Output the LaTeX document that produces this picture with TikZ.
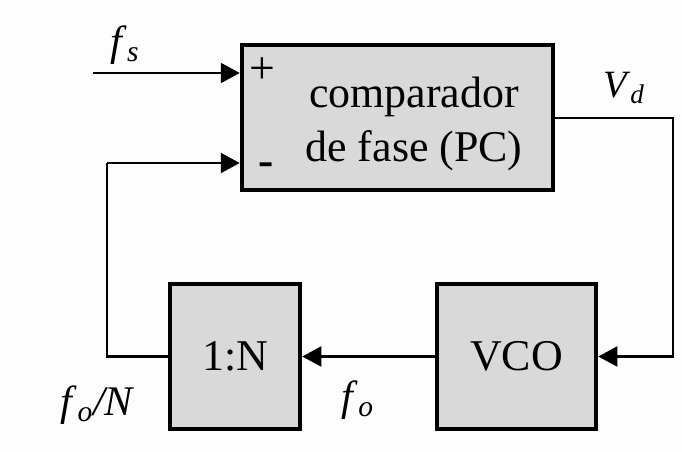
\documentclass[tikz,border=0pt]{standalone}
\usepackage{fontspec}
\setmainfont{Liberation Serif}
\usetikzlibrary{positioning,arrows.meta}
\usepackage{xcolor}
\definecolor{blockfill}{HTML}{D9D9D9}
\definecolor{paper}{HTML}{FDFDFD}

\begin{document}
\begin{tikzpicture}[x=0.02cm,y=-0.02cm,
    block/.style={draw=black,fill=blockfill,line width=2.6pt,align=center,
      inner sep=0pt,font=\fontsize{25}{29}\selectfont},
    wire/.style={line width=1.2pt},
    sig/.style={wire,-{Triangle[length=0.38cm,width=0.4cm]}},
    lbl/.style={font=\fontsize{24}{28}\selectfont}]
  \fill[paper] (0,0) rectangle (682,452);
  \useasboundingbox (0,0) rectangle (682,452);

  % blocks
  \node[block,minimum width=6.22cm,minimum height=2.9cm] (pc) at (397.5,117.5) {};
  \node[font=\fontsize{25}{31}\selectfont,align=center] (pctext) at (414,124) {comparador\\de fase (PC)};
  \node[block,minimum width=2.6cm,minimum height=2.9cm] (div) at (235,356.5) {1:N};
  \node[block,minimum width=3.18cm,minimum height=2.9cm] (vco) at (516.5,356.5) {VCO};

  % signs at the inputs
  \node[font=\fontsize{26}{30}\selectfont] (plus) at (262,71) {+};
  \node[font=\fontsize{26}{30}\selectfont\bfseries] (minus) at (266,169) {-};

  % turning points
  \coordinate (fsin) at (93,73);
  \coordinate (vdturn) at (673,118);
  \coordinate (fbturn) at (107,163);

  % connectors
  \draw[sig] (fsin) -- (fsin -| pc.west);
  \draw[sig] (pc.east |- vdturn) -- (vdturn) |- (vco.east);
  \draw[sig] (vco.west) -- (div.east);
  \draw[wire] (div.west) -| (fbturn);
  \draw[sig] (fbturn) -- (fbturn -| pc.west);

  % signal names
  \node[lbl] (fs) at (125,45) {\textit{f}\textsubscript{\textit{s}}};
  \node[lbl,font=\fontsize{22}{26}\selectfont] (vd) at (624,88) {\textit{V}\textsubscript{\textit{d}}};
  \node[lbl] (fo) at (358,400) {\textit{f}\textsubscript{\textit{o}}};
  \node[lbl] (foN) at (98,405) {\textit{f}\textsubscript{\textit{o}}\textit{/N}};
\end{tikzpicture}
\end{document}
